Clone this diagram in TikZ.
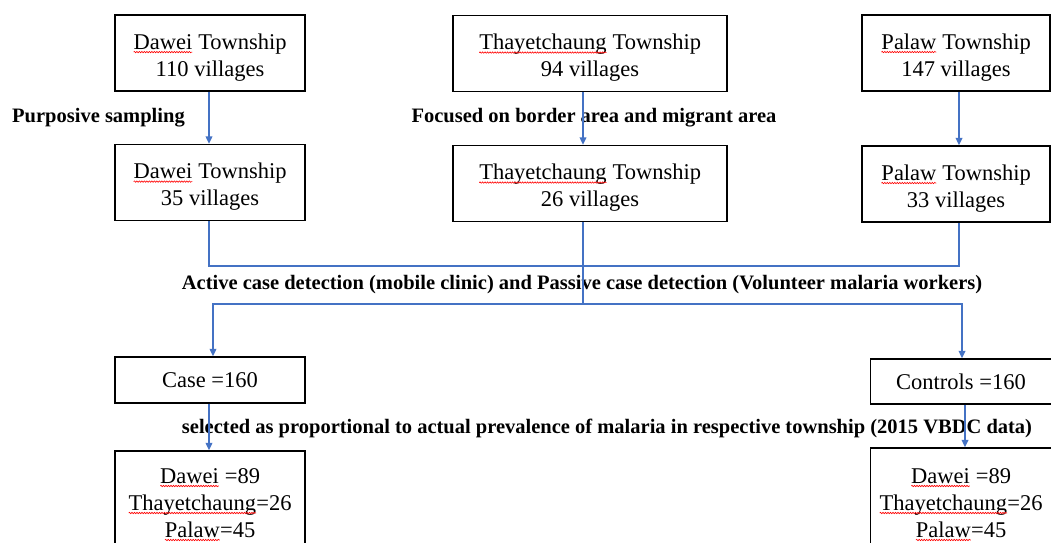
\documentclass[tikz,border=0pt]{standalone}
\usepackage{fontspec}
\setmainfont{Liberation Serif}
\usetikzlibrary{arrows.meta,decorations.pathmorphing}
\definecolor{connblue}{HTML}{4472C4}
\newcommand{\spellmark}[1]{\tikz[baseline=(w.base)]{\node[draw=none,inner sep=0pt,outer sep=0pt,minimum width=0pt,minimum height=0pt,align=left](w){#1};\draw[red,line width=0.6pt,decorate,decoration={snake,amplitude=0.7pt,segment length=2.5pt}]([yshift=-3pt]w.base west)--([yshift=-3pt]w.base east);}}
\newcommand{\topstrut}[1]{\rule{0pt}{#1}}
\begin{document}
\begin{tikzpicture}[x=1pt,y=-1pt,
  box/.style={draw=black,line width=1.3pt,align=center,font=\fontsize{22.5}{27}\selectfont,inner sep=0pt},
  lab/.style={font=\fontsize{20.5}{24}\selectfont\bfseries,inner sep=0pt},
  conn/.style={draw=connblue,line width=2pt},
  arr/.style={conn,-{Triangle[length=7.5pt,width=6.5pt]}}]
\useasboundingbox (0,0) rectangle (1051,542);
\clip (0,0) rectangle (1051,542);
% row 1
\node[box,minimum width=190pt,minimum height=76pt] (d1) at (210,53) {\topstrut{24pt}\spellmark{Dawei} Township\\110 villages};
\node[box,minimum width=274pt,minimum height=76pt] (t1) at (590,53.5) {\topstrut{24pt}\spellmark{Thayetchaung} Township\\94 villages};
\node[box,minimum width=188pt,minimum height=76pt] (p1) at (956,53) {\topstrut{24pt}\spellmark{Palaw} Township\\147 villages};
% row 2
\node[box,minimum width=190pt,minimum height=76pt] (d2) at (210,182.5) {\topstrut{24pt}\spellmark{Dawei} Township\\35 villages};
\node[box,minimum width=274pt,minimum height=76pt] (t2) at (590,183.5) {\topstrut{24pt}\spellmark{Thayetchaung} Township\\26 villages};
\node[box,minimum width=188pt,minimum height=76pt] (p2) at (956,184) {\topstrut{24pt}\spellmark{Palaw} Township\\33 villages};
% row 3
\node[box,minimum width=190pt,minimum height=46pt] (ca) at (210,380) {Case =160};
\node[box,minimum width=181pt,minimum height=45pt] (co) at (961,381.5) {Controls =160};
% row 4
\node[box,minimum width=190pt,minimum height=100pt] (bl) at (210,501) {\topstrut{22pt}\spellmark{Dawei} =89\\\spellmark{Thayetchaung}=26\\\spellmark{Palaw}=45};
\node[box,minimum width=181pt,minimum height=106pt] (br) at (961,501) {\topstrut{22pt}\spellmark{Dawei} =89\\\spellmark{Thayetchaung}=26\\\spellmark{Palaw}=45};
% labels
\node[lab,anchor=west] (l1) at (12,118) {Purposive sampling};
\node[lab] (l2) at (594,118) {Focused on border area and migrant area};
\node[lab] (l3) at (582,285) {Active case detection (mobile clinic) and Passive case detection (Volunteer malaria workers)};
\node[lab] (l4) at (607,428) {selected as proportional to actual prevalence of malaria in respective township (2015 VBDC data)};
% connector coordinates
\coordinate (xa) at (209,0);
\coordinate (xb) at (583,0);
\coordinate (xc) at (959,0);
\coordinate (xr) at (965,0);
\coordinate (jl) at (209,266);
\coordinate (jr) at (959,266);
\coordinate (jc) at (583,266);
\coordinate (kc) at (583,304);
\coordinate (kl) at (213,304);
\coordinate (kr) at (962,304);
% connectors
\draw[arr] (d1.south -| xa) -- (d2.north -| xa);
\draw[arr] (t1.south -| xb) -- (t2.north -| xb);
\draw[arr] (p1.south -| xc) -- (p2.north -| xc);
\draw[conn] (d2.south -| xa) -- (jl) -- (jr) -- (p2.south -| xc);
\draw[conn] (t2.south -| xb) -- (jc) -- (kc);
\draw[arr] (kc) -- (kl) -- (ca.north -| kl);
\draw[arr] (kc) -- (kr) -- (co.north -| kr);
\draw[arr] (ca.south -| xa) -- (bl.north -| xa);
\draw[arr] (co.south -| xr) -- (br.north -| xr);
\end{tikzpicture}
\end{document}
